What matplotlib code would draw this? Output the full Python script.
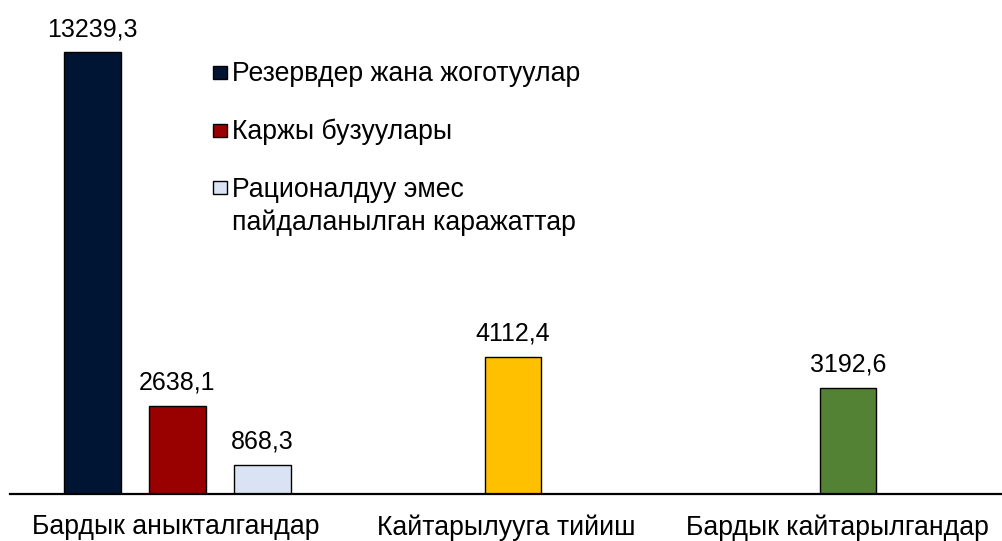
import matplotlib
matplotlib.use("Agg")
import matplotlib.pyplot as plt
from matplotlib.patches import Rectangle

# ---- data ----
categories = ["Бардык аныкталгандар", "Кайтарылууга тийиш", "Бардык кайтарылгандар"]
series_names = ["Резервдер жана жоготуулар",
                "Каржы бузуулары",
                "Рационалдуу эмес\nпайдаланылган каражаттар"]
group1_values = [13239.3, 2638.1, 868.3]
group2_values = [4112.4]
group3_values = [3192.6]
value_labels = ["13239,3", "2638,1", "868,3", "4112,4", "3192,6"]

# ---- style ----
group1_colors = ["#001433", "#990000", "#DAE3F3"]
group2_color = "#FFC000"
group3_color = "#548235"
FONT = "Liberation Sans"
FS_NUM = 18
FS_TXT = 19.2

W, H = 1003, 541
fig = plt.figure(figsize=(W / 100, H / 100), dpi=100)
ax = fig.add_axes([10 / W, (H - 494) / H, 993 / W, 494 / H])

bar_w = 0.172
offsets1 = [-0.2508, 0.006, 0.263]
bars = []
for v, c, off in zip(group1_values, group1_colors, offsets1):
    bars.append(ax.bar(0 + off, v, width=bar_w, color=c, edgecolor="black", linewidth=1.0)[0])
bars.append(ax.bar(1 + 0.0196, group2_values[0], width=bar_w, color=group2_color,
                   edgecolor="black", linewidth=1.0)[0])
bars.append(ax.bar(2 + 0.0317, group3_values[0], width=bar_w, color=group3_color,
                   edgecolor="black", linewidth=1.0)[0])

for b, lab in zip(bars, value_labels):
    ax.annotate(lab, (b.get_x() + b.get_width() / 2, b.get_height()),
                xytext=(0, 11.6), textcoords="offset points",
                ha="center", va="baseline", fontsize=FS_NUM, family=FONT, color="black")

ax.set_xlim(-0.5, 2.5)
ax.set_ylim(0, 14813)
ax.set_xticks(range(len(categories)))
ax.set_xticklabels(categories, fontsize=FS_TXT, family=FONT)
ax.tick_params(axis="x", length=0, pad=14.5)
ax.set_yticks([])
for s in ["left", "right", "top"]:
    ax.spines[s].set_visible(False)
ax.spines["bottom"].set_linewidth(1.6)
ax.spines["bottom"].set_color("black")
ax.patch.set_visible(False)

# ---- legend (manual, pixel layout) ----
def fy(y):
    return 1 - y / H

sq = 13.5
sq_centers = [72.5, 130.5, 187.5]
baselines = [81, 139, 197]
line_step = 33
for name, c, yc, yb in zip(series_names, group1_colors, sq_centers, baselines):
    fig.add_artist(Rectangle((213 / W, fy(yc + sq / 2)), sq / W, sq / H,
                             transform=fig.transFigure, facecolor=c,
                             edgecolor="black", linewidth=1.0))
    for i, line in enumerate(name.split("\n")):
        fig.text(232 / W, fy(yb + i * line_step), line, ha="left", va="baseline",
                 fontsize=FS_TXT, family=FONT, color="black")

fig.savefig("out.png", dpi=100)
